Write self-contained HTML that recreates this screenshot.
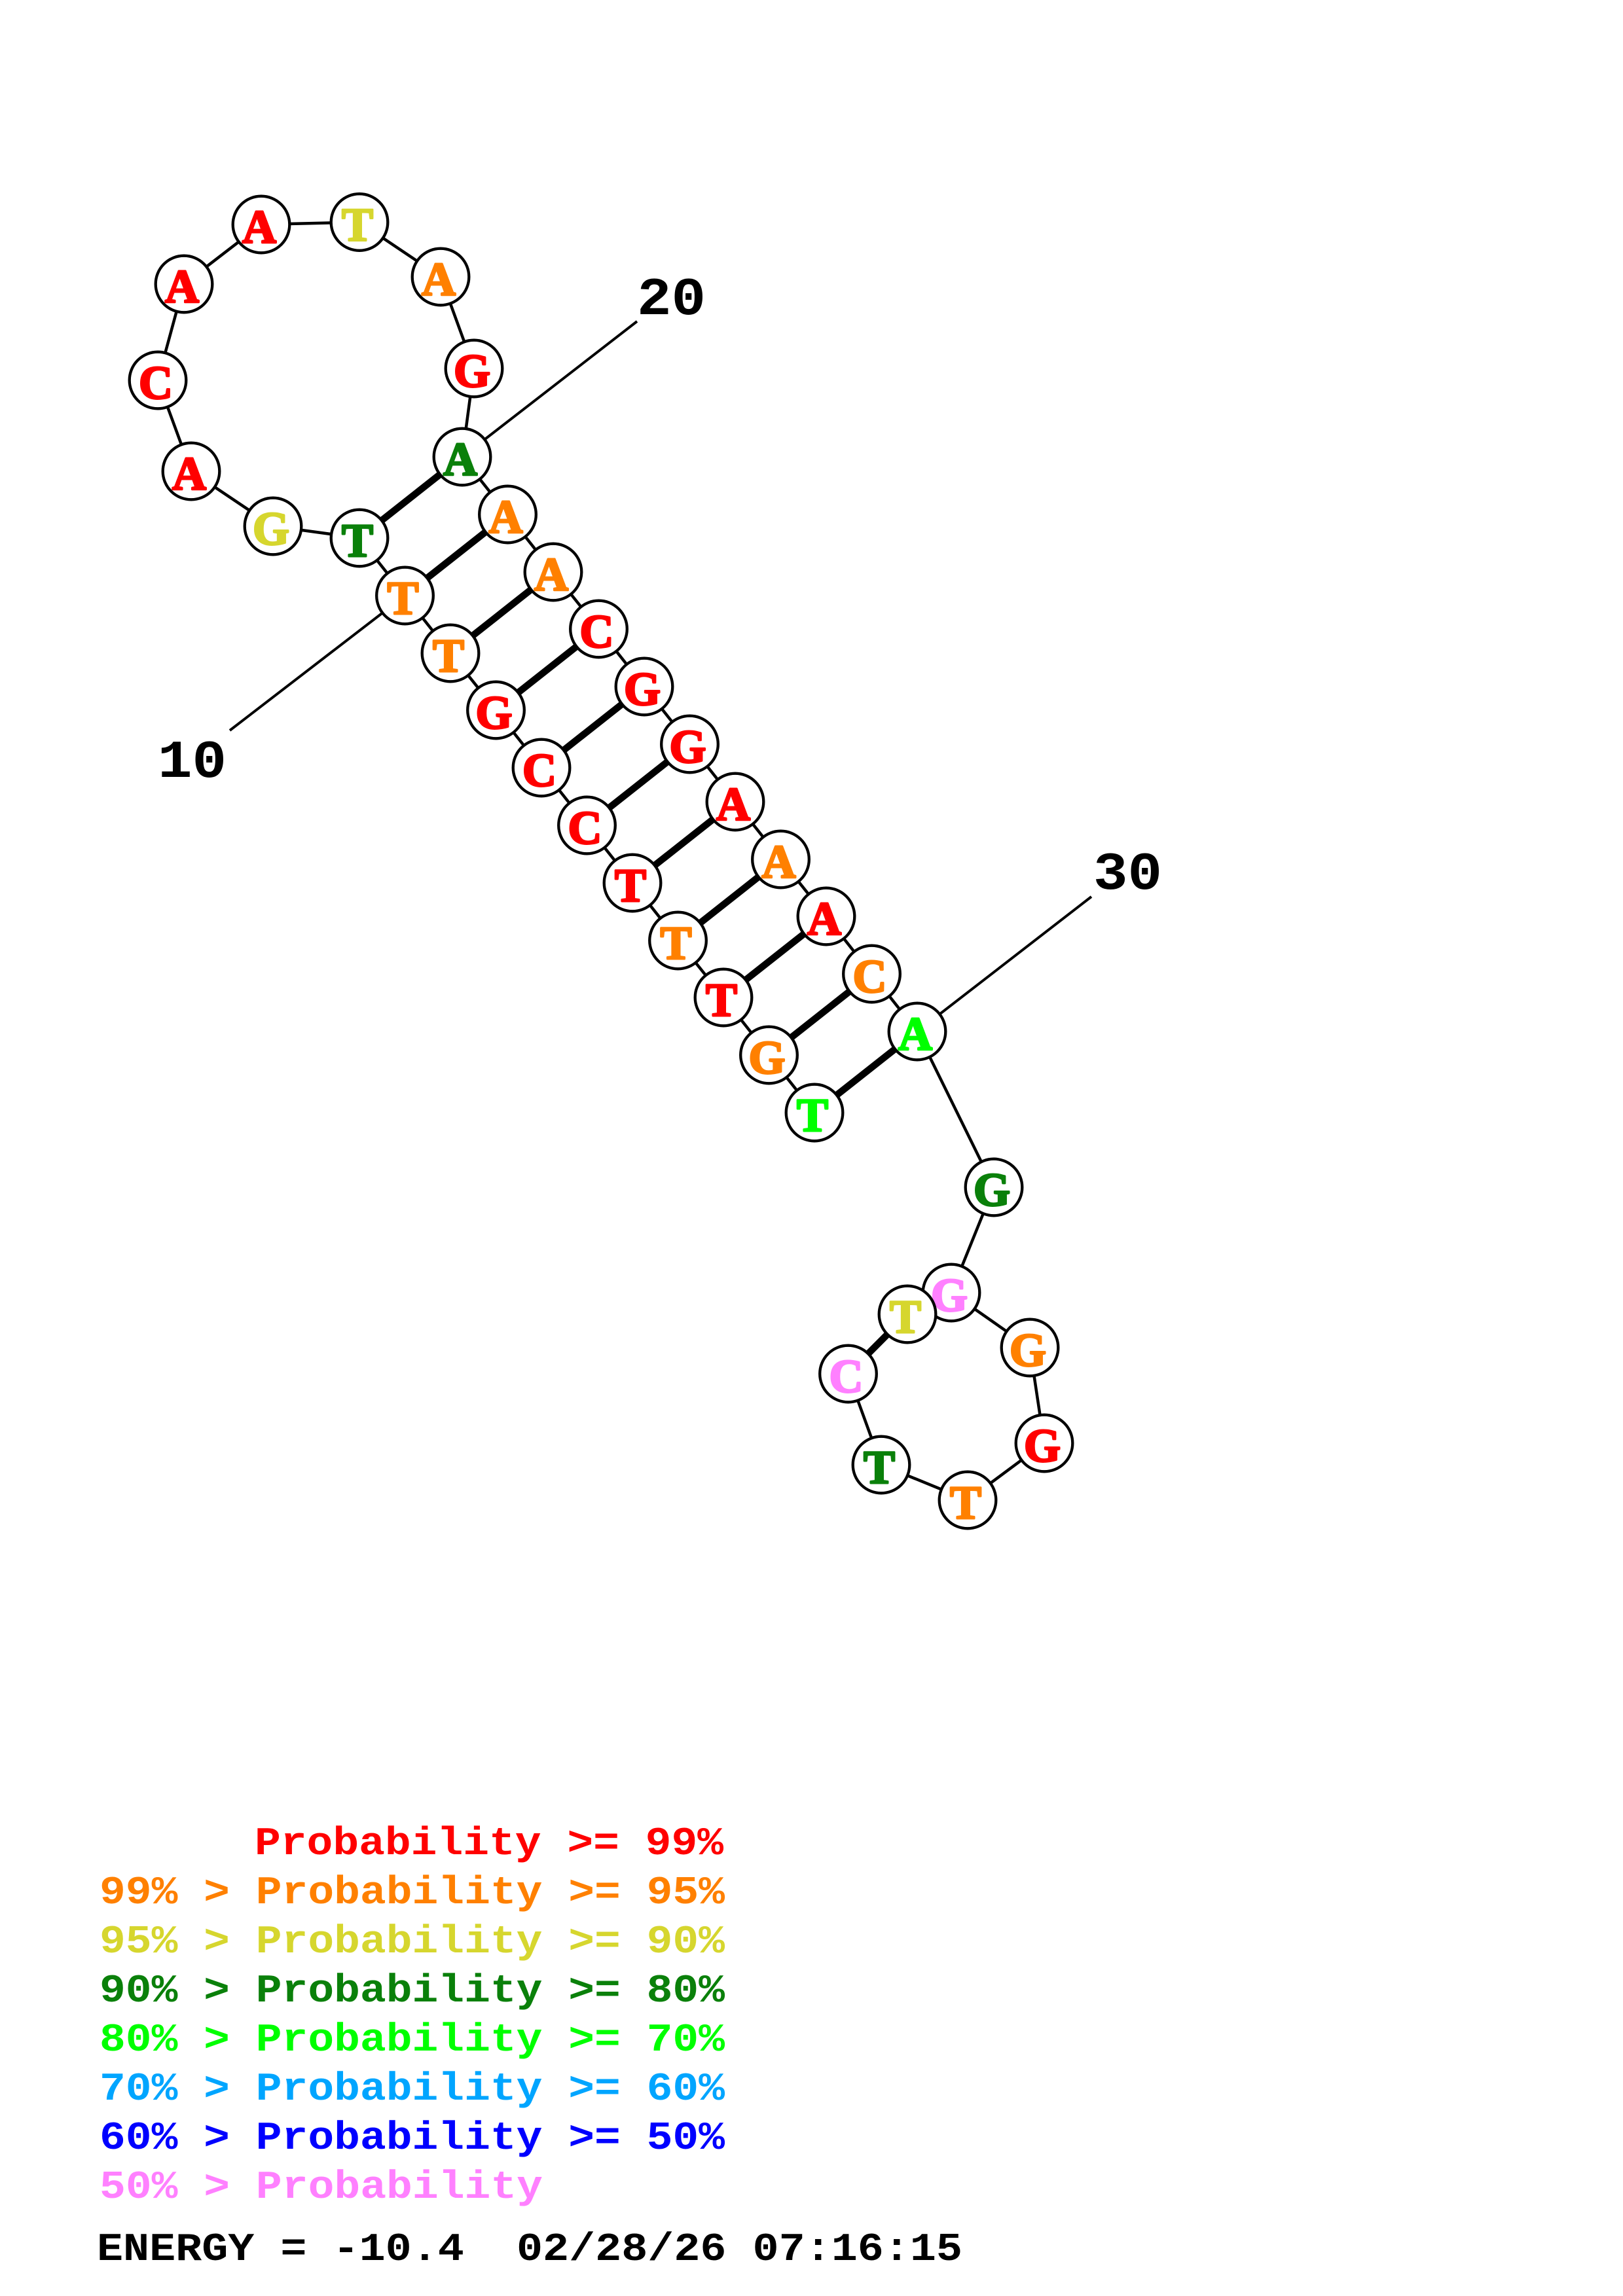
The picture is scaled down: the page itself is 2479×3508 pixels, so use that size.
<!DOCTYPE html>
<html><head><meta charset="utf-8"><style>
html,body{margin:0;padding:0;background:#fff;width:2479px;height:3508px;overflow:hidden}
svg{display:block}
.n circle{fill:#fff;stroke:#000;stroke-width:4.3}
.n text{font-family:"Liberation Serif",serif;font-weight:bold;font-size:72px;text-anchor:middle;stroke-width:3;stroke-linejoin:round}
.l text{font-family:"Liberation Mono",monospace;font-weight:bold;font-size:60px;white-space:pre}
.p line,.t line{stroke:#000;stroke-linecap:butt}
.p line{stroke-width:10.5}.t line{stroke-width:4}
.R{fill:#ff0000;stroke:#ff0000}.O{fill:#ff8000;stroke:#ff8000}.Y{fill:#d6d62e;stroke:#d6d62e}.G{fill:#0a800a;stroke:#0a800a}.L{fill:#00ff00;stroke:#00ff00}.S{fill:#00a5ff;stroke:#00a5ff}.B{fill:#0000ff;stroke:#0000ff}.P{fill:#ff80ff;stroke:#ff80ff}
.l text{stroke:none}
</style></head><body>
<svg width="2479" height="3508" viewBox="0 0 2479 3508" xmlns="http://www.w3.org/2000/svg">
<rect width="2479" height="3508" fill="#fff"/>
<g class="t">
<line x1="618.5" y1="910" x2="351" y2="1116"/>
<line x1="706" y1="698" x2="973" y2="491"/>
<line x1="1401" y1="1576" x2="1667" y2="1370"/>
</g>
<g class="p">
<line x1="1244" y1="1700" x2="1401" y2="1576"/>
<line x1="1174.5" y1="1612" x2="1331.5" y2="1488"/>
<line x1="1105" y1="1524" x2="1262" y2="1400"/>
<line x1="1035.5" y1="1437" x2="1192.5" y2="1313"/>
<line x1="966" y1="1349" x2="1123" y2="1225"/>
<line x1="896.5" y1="1261" x2="1053.5" y2="1137"/>
<line x1="827" y1="1173" x2="984" y2="1049"/>
<line x1="757.5" y1="1085" x2="914.5" y2="961"/>
<line x1="688" y1="998" x2="845" y2="874"/>
<line x1="618.5" y1="910" x2="775.5" y2="786"/>
<line x1="549" y1="822" x2="706" y2="698"/>
<line x1="1295.5" y1="2099" x2="1386" y2="2008"/>
</g>
<polyline fill="none" stroke="#000" stroke-width="4.5" points="1244,1700 1174.5,1612 1105,1524 1035.5,1437 966,1349 896.5,1261 827,1173 757.5,1085 688,998 618.5,910 549,822 417,804 292,720 241,581 281,434 399,343 549,339.5 673,423 724,563 706,698 775.5,786 845,874 914.5,961 984,1049 1053.5,1137 1123,1225 1192.5,1313 1262,1400 1331.5,1488 1401,1576 1518,1814 1453,1975 1573,2059 1595,2205 1478,2292 1346,2238 1295.5,2099"/>
<g class="n">
<circle cx="1244" cy="1700" r="43.3"/><text x="1241" y="1728" class="L">T</text>
<circle cx="1174.5" cy="1612" r="43.3"/><text x="1171.5" y="1640" class="O">G</text>
<circle cx="1105" cy="1524" r="43.3"/><text x="1102" y="1552" class="R">T</text>
<circle cx="1035.5" cy="1437" r="43.3"/><text x="1032.5" y="1465" class="O">T</text>
<circle cx="966" cy="1349" r="43.3"/><text x="963" y="1377" class="R">T</text>
<circle cx="896.5" cy="1261" r="43.3"/><text x="893.5" y="1289" class="R">C</text>
<circle cx="827" cy="1173" r="43.3"/><text x="824" y="1201" class="R">C</text>
<circle cx="757.5" cy="1085" r="43.3"/><text x="754.5" y="1113" class="R">G</text>
<circle cx="688" cy="998" r="43.3"/><text x="685" y="1026" class="O">T</text>
<circle cx="618.5" cy="910" r="43.3"/><text x="615.5" y="938" class="O">T</text>
<circle cx="549" cy="822" r="43.3"/><text x="546" y="850" class="G">T</text>
<circle cx="417" cy="804" r="43.3"/><text x="414" y="832" class="Y">G</text>
<circle cx="292" cy="720" r="43.3"/><text x="289" y="748" class="R">A</text>
<circle cx="241" cy="581" r="43.3"/><text x="238" y="609" class="R">C</text>
<circle cx="281" cy="434" r="43.3"/><text x="278" y="462" class="R">A</text>
<circle cx="399" cy="343" r="43.3"/><text x="396" y="371" class="R">A</text>
<circle cx="549" cy="339.5" r="43.3"/><text x="546" y="367.5" class="Y">T</text>
<circle cx="673" cy="423" r="43.3"/><text x="670" y="451" class="O">A</text>
<circle cx="724" cy="563" r="43.3"/><text x="721" y="591" class="R">G</text>
<circle cx="706" cy="698" r="43.3"/><text x="703" y="726" class="G">A</text>
<circle cx="775.5" cy="786" r="43.3"/><text x="772.5" y="814" class="O">A</text>
<circle cx="845" cy="874" r="43.3"/><text x="842" y="902" class="O">A</text>
<circle cx="914.5" cy="961" r="43.3"/><text x="911.5" y="989" class="R">C</text>
<circle cx="984" cy="1049" r="43.3"/><text x="981" y="1077" class="R">G</text>
<circle cx="1053.5" cy="1137" r="43.3"/><text x="1050.5" y="1165" class="R">G</text>
<circle cx="1123" cy="1225" r="43.3"/><text x="1120" y="1253" class="R">A</text>
<circle cx="1192.5" cy="1313" r="43.3"/><text x="1189.5" y="1341" class="O">A</text>
<circle cx="1262" cy="1400" r="43.3"/><text x="1259" y="1428" class="R">A</text>
<circle cx="1331.5" cy="1488" r="43.3"/><text x="1328.5" y="1516" class="O">C</text>
<circle cx="1401" cy="1576" r="43.3"/><text x="1398" y="1604" class="L">A</text>
<circle cx="1518" cy="1814" r="43.3"/><text x="1515" y="1842" class="G">G</text>
<circle cx="1453" cy="1975" r="43.3"/><text x="1450" y="2003" class="P">G</text>
<circle cx="1573" cy="2059" r="43.3"/><text x="1570" y="2087" class="O">G</text>
<circle cx="1595" cy="2205" r="43.3"/><text x="1592" y="2233" class="R">G</text>
<circle cx="1478" cy="2292" r="43.3"/><text x="1475" y="2320" class="O">T</text>
<circle cx="1346" cy="2238" r="43.3"/><text x="1343" y="2266" class="G">T</text>
<circle cx="1295.5" cy="2099" r="43.3"/><text x="1292.5" y="2127" class="P">C</text>
<circle cx="1386" cy="2008" r="43.3"/><text x="1383" y="2036" class="Y">T</text>
</g>
<g class="l">
<text x="241" y="1187" style="font-size:82px" textLength="105" lengthAdjust="spacingAndGlyphs">10</text>
<text x="973" y="480" style="font-size:82px" textLength="105" lengthAdjust="spacingAndGlyphs">20</text>
<text x="1670" y="1358" style="font-size:82px" textLength="105" lengthAdjust="spacingAndGlyphs">30</text>
<text x="389" y="2833" class="R" textLength="716" lengthAdjust="spacingAndGlyphs">Probability &gt;= 99%</text>
<text x="152" y="2908" class="O" textLength="955" lengthAdjust="spacingAndGlyphs">99% &gt; Probability &gt;= 95%</text>
<text x="152" y="2983" class="Y" textLength="955" lengthAdjust="spacingAndGlyphs">95% &gt; Probability &gt;= 90%</text>
<text x="152" y="3058" class="G" textLength="955" lengthAdjust="spacingAndGlyphs">90% &gt; Probability &gt;= 80%</text>
<text x="152" y="3133" class="L" textLength="955" lengthAdjust="spacingAndGlyphs">80% &gt; Probability &gt;= 70%</text>
<text x="152" y="3208" class="S" textLength="955" lengthAdjust="spacingAndGlyphs">70% &gt; Probability &gt;= 60%</text>
<text x="152" y="3283" class="B" textLength="955" lengthAdjust="spacingAndGlyphs">60% &gt; Probability &gt;= 50%</text>
<text x="152" y="3358" class="P" textLength="677" lengthAdjust="spacingAndGlyphs">50% &gt; Probability</text>
<text x="148" y="3453" fill="#000" textLength="1322" lengthAdjust="spacingAndGlyphs" xml:space="preserve">ENERGY = -10.4  02/28/26 07:16:15</text>
</g>
</svg>
</body></html>
